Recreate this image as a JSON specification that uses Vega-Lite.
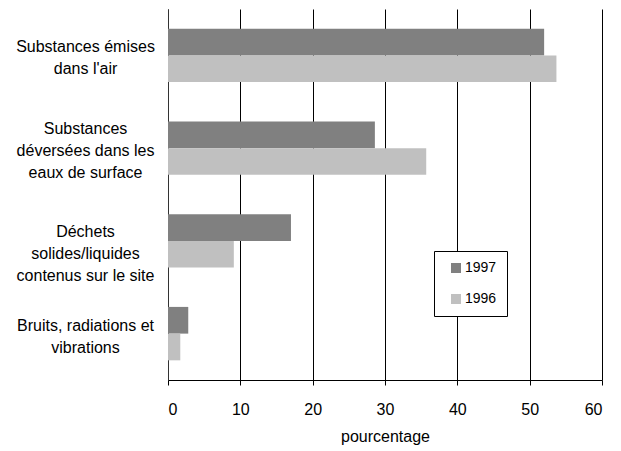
{
  "$schema": "https://vega.github.io/schema/vega-lite/v6.json",
  "autosize": {"type": "none"},
  "width": 434,
  "height": 371,
  "padding": {"left": 168, "top": 9, "right": 19, "bottom": 71},
  "background": "white",
  "config": {
    "view": {"stroke": null},
    "font": "Liberation Sans",
    "axis": {"labelFont": "Liberation Sans", "titleFont": "Liberation Sans", "labelColor": "#000", "titleColor": "#000", "titleFontWeight": "normal"}
  },
  "data": {
    "values": [
      {"categorie": "Substances émises|dans l'air", "annee": "1997", "pourcentage": 52.0},
      {"categorie": "Substances émises|dans l'air", "annee": "1996", "pourcentage": 53.7},
      {"categorie": "Substances|déversées dans les|eaux de surface", "annee": "1997", "pourcentage": 28.6},
      {"categorie": "Substances|déversées dans les|eaux de surface", "annee": "1996", "pourcentage": 35.7},
      {"categorie": "Déchets|solides/liquides|contenus sur le site", "annee": "1997", "pourcentage": 17.0},
      {"categorie": "Déchets|solides/liquides|contenus sur le site", "annee": "1996", "pourcentage": 9.1},
      {"categorie": "Bruits, radiations et|vibrations", "annee": "1997", "pourcentage": 2.8},
      {"categorie": "Bruits, radiations et|vibrations", "annee": "1996", "pourcentage": 1.7}
    ]
  },
  "mark": {"type": "bar"},
  "encoding": {
    "y": {
      "field": "categorie",
      "type": "nominal",
      "sort": null,
      "scale": {"paddingInner": 0.424, "paddingOuter": 0.212},
      "axis": {
        "title": null,
        "labelExpr": "split(datum.label, '|')",
        "labelAlign": "center",
        "labelBaseline": "middle",
        "labelPadding": 83,
        "labelLineHeight": 22,
        "labelFontSize": 16,
        "labelLimit": 300,
        "labelOffset": {"condition": [
          {"test": "indexof(datum.value, 'Déchets') == 0", "value": -9},
          {"test": "indexof(datum.value, 'Substances|') == 0", "value": -19},
          {"test": "indexof(datum.value, 'Bruits') == 0", "value": -8}
        ], "value": -8},
        "ticks": false,
        "domainColor": "#333",
        "grid": false
      }
    },
    "yOffset": {"field": "annee", "type": "nominal", "sort": ["1997", "1996"], "scale": {"paddingInner": 0, "paddingOuter": 0}},
    "x": {
      "field": "pourcentage",
      "type": "quantitative",
      "scale": {"domain": [0, 60], "nice": false},
      "axis": {
        "title": "pourcentage",
        "values": [0, 10, 20, 30, 40, 50, 60],
        "labelFontSize": 16,
        "titleFontSize": 16,
        "tickSize": 5,
        "tickColor": "#000",
        "domainColor": "#000",
        "labelPadding": 16,
        "titlePadding": 11,
        "grid": true,
        "gridColor": "#000",
        "gridOpacity": 1
      }
    },
    "color": {
      "field": "annee",
      "type": "nominal",
      "sort": ["1997", "1996"],
      "scale": {"domain": ["1997", "1996"], "range": ["#808080", "#c0c0c0"]},
      "legend": {
        "title": null,
        "orient": "none",
        "legendX": 266,
        "legendY": 242,
        "direction": "vertical",
        "fillColor": "white",
        "strokeColor": "#000",
        "padding": 10,
        "symbolType": "square",
        "symbolSize": 100,
        "symbolStrokeWidth": 0,
        "symbolOffset": 5,
        "labelOffset": 2,
        "labelFontSize": 14,
        "labelFont": "Liberation Sans",
        "labelColor": "#000",
        "rowPadding": 17
      }
    }
  }
}
